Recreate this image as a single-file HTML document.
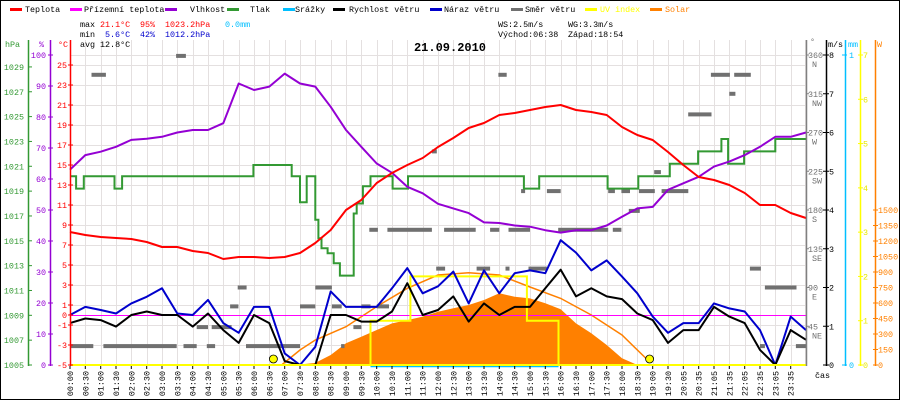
<!DOCTYPE html>
<html><head><meta charset="utf-8"><style>
html,body{margin:0;padding:0;background:#fff}
#wrap{position:relative;width:900px;height:400px;overflow:hidden}
svg{display:block}
text{font-family:"Liberation Mono",monospace;font-size:8.4px}
text.title{font-size:12px;font-weight:bold}
</style></head><body>
<div id="wrap">
<svg id="c" width="900" height="400" viewBox="0 0 900 400"></svg>
</div>
<script>
// ---- data ----
const halfHours = [0,0.5,1,1.5,2,2.5,3,3.5,4,4.5,5,5.5,6,6.5,7,7.5,8,8.5,9,9.5,10,10.5,11,11.5,12,12.5,13,13.5,14,14.5,15,15.5,16,16.5,17,17.5,18,18.5,19,19.5,20,20.5,21,21.5,22,22.5,23,23.5,24];
const tempVals = [8.3,8.0,7.8,7.7,7.6,7.3,6.8,6.8,6.4,6.2,5.6,5.8,5.8,5.7,5.8,6.2,7.2,8.5,10.5,11.5,13.2,14.2,15,15.7,16.8,17.7,18.7,19.2,20,20.2,20.5,20.8,21,20.5,20.3,20,18.8,18,17.5,16.3,15,13.8,13.5,13,12.2,11,11,10.2,9.7];
const humVals = [63,67.7,68.8,70.4,72.6,73,73.6,75,75.8,75.8,78,90.8,88.7,89.8,94,90.8,89.8,83.3,75.8,70.4,65,62,57.5,55.4,52,50.5,49,46,45.8,45,44.6,43.5,42.7,43.5,43.5,45,47.8,50.5,51,56.5,58.6,60.7,64,65.6,67.7,70.4,73.6,73.6,75];
const windVals = [1.08,1.2,1.16,0.99,1.29,1.38,1.29,1.29,0.99,1.33,0.9,0.57,1.29,1.08,0.1,0,0,1.29,1.29,1.12,1.12,1.38,2.11,1.29,1.42,1.77,1.12,1.59,1.29,1.5,1.5,1.98,2.46,1.77,1.98,1.77,1.7,1.33,1.16,0.57,0.9,0.9,1.5,1.25,1.08,0.39,0,0.9,0.65];
const gustVals = [1.29,1.5,1.42,1.33,1.59,1.76,1.98,1.33,1.29,1.68,1.08,0.83,1.5,1.5,0.3,0,0.47,1.9,1.5,1.5,1.5,1.98,2.5,1.85,2.03,2.41,1.59,2.44,1.85,2.37,2.44,2.37,3.22,2.9,2.44,2.7,2.28,1.85,1.25,0.83,1.08,1.08,1.59,1.46,1.38,0.9,0,1.25,0.9];
const pressTimes = [0,0.2,0.45,1.45,1.7,5.98,7.23,7.5,7.72,8.0,8.1,8.2,8.4,8.6,8.8,9.25,9.35,9.55,9.8,10.52,11.02,14.8,15.3,17.53,18.53,19.56,20.48,21.24,21.46,21.98,23.0];
const pressVals = [1020.2,1019.2,1020.2,1019.2,1020.2,1021.1,1020.2,1018.1,1020.2,1016.7,1015.2,1014.4,1014.0,1013.2,1012.2,1017.2,1018.0,1019.4,1020.2,1019.2,1020.2,1019.2,1020.2,1019.2,1020.2,1021.2,1022.2,1023.2,1021.2,1022.2,1023.2];
const solarTimes = [7.5,8,8.5,9,9.5,10,10.5,11,11.5,12,12.5,13,13.5,14,14.5,15,15.5,16,16.5,17,17.5,18,18.5];
const solarVals = [5,20,97,210,274,339,403,435,468,516,549,581,629,694,661,645,597,540,403,307,194,65,0];
const solarMaxTimes = [6.9,7.5,8,9,10,11,12,13,14,15,16,17,18,18.9];
const solarMaxVals = [0,145,242,371,565,742,871,892,871,755,645,484,290,30];
const uvTimes = [0,9.8,11.1,14.9,15.93];
const uvVals = [0,1,2,1,0];
const dirStart = [0.7,3.46,0,1.09,3.7,4.46,4.13,4.62,5.22,5.47,5.74,7.5,8.0,8.54,9.5,10.0,9.24,8.84,9.76,10.35,12.2,13.7,14.3,11.94,13.26,14.2,14.95,11.8,13.97,14.71,15.55,15.92,17.7,17.55,17.98,18.55,19.29,18.22,19.05,20.16,20.9,21.5,21.66,22.17,22.66,22.5,23.67];
const dirEnd = [1.17,3.78,0.76,3.48,4.13,4.73,4.5,5.27,5.49,5.76,7.5,8.0,8.54,8.86,9.8,10.4,9.5,8.95,10.04,11.8,13.23,14.0,15.0,12.23,13.7,14.33,15.55,11.96,14.24,14.84,16.0,17.55,17.98,17.77,18.26,19.07,20.16,18.58,19.27,20.92,21.52,21.7,22.2,22.53,23.69,22.66,24];
const dirDeg = [337,359,22,22,22,22,44,44,68,90,22,68,90,68,68,68,44,22,157,157,157,157,157,112,112,112,112,248,337,202,202,157,157,202,202,202,202,179,224,291,337,315,337,112,90,22,22];
const timeLabels = ["00:00","00:30","01:00","01:30","02:00","02:30","03:00","03:30","04:00","04:30","05:00","05:30","06:00","06:30","07:00","07:30","08:00","08:30","09:00","09:30","10:00","10:30","11:00","11:30","12:00","12:30","13:00","13:30","14:00","14:30","15:00","15:30","16:00","16:30","17:00","17:30","18:00","18:30","19:00","19:30","20:05","20:35","21:05","21:35","22:05","22:35","23:05","23:35"];
const hpaTicks = [1029,1027,1025,1023,1021,1019,1017,1015,1013,1011,1009,1007,1005];
const humTicks = [100,90,80,70,60,50,40,30,20,10,0];
const tempTicks = [25,23,21,19,17,15,13,11,9,7,5,3,1,0,-1,-3,-5];
const dirTicks = [360,315,270,225,180,135,90,45];
const dirNames = ["N","NW","W","SW","S","SE","E","NE"];
const msTicks = [8,7,6,5,4,3,2,1,0];
const uvTicks = [7,6,5,4,3,2,1,0];
const wTicks = [1500,1350,1200,1050,900,750,600,450,300,150,0];
const sunTimes = [6.633,18.9];

// ---- scales ----
const X = h => 70 + h*30.667;
const yT = t => 315 - 10*t;
const yH = v => 365 - 3.1*v;
const yP = p => 365 - (p-1005)*12.42;
const yD = d => 365 - d*310/360;
const yW = v => 365 - v*38.75;
const yS = w => 365 - w*155/1500;
const yU = u => 365 - u*310/7;

const svg = document.getElementById('c');
const NS = 'http://www.w3.org/2000/svg';
function mk(tag, attrs, parent){
  const e = document.createElementNS(NS, tag);
  for (const k in attrs) e.setAttribute(k, attrs[k]);
  (parent||svg).appendChild(e);
  return e;
}
function txt(x,y,s,fill,anchor,extra){
  const t = mk('text',Object.assign({x:x,y:y,fill:fill||'#000','text-anchor':anchor||'start'},extra||{}));
  t.textContent = s;
  return t;
}

// border
let e = mk('rect',{x:0.5,y:0.5,width:899,height:399,fill:'#fff',stroke:'#000'});



// grid
const grid = mk('g',{stroke:'#e4e0e0','stroke-width':1});


for (let i=0;i<timeLabels.length;i++){ const gx=Math.round(70+i*15.333)+0.5; mk('line',{x1:gx,y1:40,x2:gx,y2:365},grid); }
mk('line',{x1:805.5,y1:40,x2:805.5,y2:365},grid);
for (let t=-5;t<=25;t+=2){ const gy=yT(t)+0.5; mk('line',{x1:70,y1:gy,x2:806,y2:gy},grid); }
mk('line',{x1:70,y1:55.5,x2:806,y2:55.5},grid);

// solar fill
let d = 'M'+X(solarTimes[0])+',365';
solarTimes.forEach((t,i)=>{ d+=' L'+X(t).toFixed(1)+','+yS(solarVals[i]).toFixed(1); });
d += ' L'+X(solarTimes[solarTimes.length-1])+',365 Z';
e = mk('path',{d:d,fill:'#ff8000',stroke:'none'});



// solar max curve
e = mk('polyline',{points:solarMaxTimes.map((t,i)=>X(t).toFixed(1)+','+yS(solarMaxVals[i]).toFixed(1)).join(' '),fill:'none',stroke:'#ff8000','stroke-width':1.5});



// wind direction dashes
const dg = mk('g',{fill:'#707070'});


dirStart.forEach((s,i)=>{
  const r = mk('rect',{x:X(s).toFixed(1),y:(yD(dirDeg[i])-2).toFixed(1),width:Math.max(3,X(dirEnd[i])-X(s)).toFixed(1),height:4},dg);
  
  
});

// ground temp line (0 C)
e = mk('line',{x1:70,y1:315.5,x2:806,y2:315.5,stroke:'#ff00ff','stroke-width':1});



function poly(times, vals, yf, color, w, name){
  const p = mk('polyline',{points:times.map((t,i)=>X(t).toFixed(1)+','+yf(vals[i]).toFixed(1)).join(' '),fill:'none',stroke:color,'stroke-width':w,'stroke-linejoin':'round'});
  
  
  return p;
}
function stepPath(times, vals, yf, end){
  let s='';
  times.forEach((t,i)=>{
    const x=X(t).toFixed(1), y=yf(vals[i]).toFixed(1);
    s += (i===0?'M':' L')+x+','+(i===0?y:yf(vals[i-1]).toFixed(1))+' L'+x+','+y;
  });
  s += ' L'+X(end).toFixed(1)+','+yf(vals[vals.length-1]).toFixed(1);
  return s;
}

// UV step
e = mk('path',{d:stepPath(uvTimes,uvVals,yU,24),fill:'none',stroke:'#ffff00','stroke-width':2});


// precip line
e = mk('line',{x1:X(9.8),y1:366.5,x2:X(15.93),y2:366.5,stroke:'#00bfff','stroke-width':1.5});



// pressure
e = mk('path',{d:stepPath(pressTimes,pressVals,yP,24),fill:'none',stroke:'#339933','stroke-width':2});



poly(halfHours,gustVals,yW,'#0000cc',2,'wind-gust-series');
poly(halfHours,windVals,yW,'#000000',2,'wind-speed-series');
poly(halfHours,humVals,yH,'#9400d3',2,'humidity-series');
poly(halfHours,tempVals,yT,'#ff0000',2,'temperature-series');

// sun markers
sunTimes.forEach((t,i)=>{
  const c = mk('circle',{cx:X(t).toFixed(1),cy:359,r:4,fill:'#ffff00',stroke:'#000','stroke-width':0.8});
  
  
});

// bottom axis (yellow) and time labels
e = mk('line',{x1:70,y1:365,x2:806,y2:365,stroke:'#ffff00','stroke-width':2});


const xl = mk('g',{});


timeLabels.forEach((s,i)=>{
  const cx = 70+i*15.333;
  mk('line',{x1:cx.toFixed(1),y1:366,x2:cx.toFixed(1),y2:369,stroke:'#000'},xl);
  const t = mk('text',{x:0,y:0,'text-anchor':'end',fill:'#000',transform:'translate('+(cx+3).toFixed(1)+',371) rotate(-90)'},xl);
  t.textContent = s;
  
  
});
e = txt(815,378,'čas','#000','start');



// left axes
function axisLine(x,color,name){ const l=mk('line',{x1:x+0.5,y1:40,x2:x+0.5,y2:366,stroke:color,'stroke-width':1.5});   }
axisLine(28,'#339933','pressure-axis');
axisLine(50,'#9400d3','humidity-axis');
axisLine(70,'#ff0000','temperature-axis');
hpaTicks.forEach(v=>{ const y=yP(v); mk('line',{x1:28,y1:y,x2:32,y2:y,stroke:'#339933'}); const t=txt(24,y+3,String(v),'#339933','end');   });
humTicks.forEach(v=>{ const y=yH(v); mk('line',{x1:48,y1:y,x2:53,y2:y,stroke:'#9400d3'}); const t=txt(46,y+3,String(v),'#9400d3','end');   });
tempTicks.forEach(v=>{ const y=yT(v); mk('line',{x1:68,y1:y,x2:73,y2:y,stroke:'#ff0000'}); const t=txt(67,y+3,String(v),'#ff0000','end');   });
e=txt(5,47,'hPa','#339933');  
e=txt(39,47,'%','#9400d3');  
e=txt(58,47,'°C','#ff0000');  

// right axes
axisLine(806,'#808080','direction-axis');
axisLine(826,'#000000','wind-speed-axis');
axisLine(845,'#00bfff','precip-axis');
axisLine(860,'#ffff00','uv-axis');
axisLine(875,'#ff8000','solar-axis');
dirTicks.forEach((v,i)=>{ const y=yD(v); mk('line',{x1:806,y1:y,x2:809,y2:y,stroke:'#808080'}); const t=txt(808,y+3,String(v),'#707070');   const n=txt(812,y+12,dirNames[i],'#707070');   });
msTicks.forEach(v=>{ const y=yW(v); mk('line',{x1:823,y1:y,x2:829,y2:y,stroke:'#000'}); const t=txt(829,y+3,String(v),'#000');   });
[[1,55],[0,365]].forEach(a=>{ mk('line',{x1:842,y1:a[1],x2:847,y2:a[1],stroke:'#00bfff'}); const t=txt(849,a[1]+3,String(a[0]),'#00bfff');   });
uvTicks.forEach(v=>{ const y=yU(v); mk('line',{x1:858,y1:y,x2:863,y2:y,stroke:'#ffff00'}); const t=txt(863,y+3,String(v),'#e8e800');   });
wTicks.forEach(v=>{ const y=yS(v); mk('line',{x1:873,y1:y,x2:878,y2:y,stroke:'#ff8000'}); const t=txt(878,y+3,String(v),'#ff8000');   });
e=txt(810,44,'°','#707070');  
e=txt(828,47,'m/s','#000');  
e=txt(848,47,'mm','#00bfff');  
e=txt(877,47,'W','#ff8000');  

// legend
const legend = [['Teplota','#ff0000',10,25],['Přízemní teplota','#ff00ff',70,84],['Vlhkost','#9400d3',165,190],['Tlak','#339933',227,250],['Srážky','#00bfff',283,295],['Rychlost větru','#000000',333,349],['Náraz větru','#0000cc',430,444],['Směr větru','#707070',511,525],['UV index','#ffff00',585,600],['Solar','#ff8000',650,665]];
legend.forEach(l=>{
  const g = mk('g',{});
  
  
  mk('rect',{x:l[2],y:8,width:12,height:3,fill:l[1]},g);
  const t = mk('text',{x:l[3],y:12,fill:(l[1]==='#ffff00'||l[1]==='#ff8000')?l[1]:'#000'},g);
  t.textContent = l[0];
});

// stats
const st = [[80,27,'max','#000'],[100,27,'21.1°C','#ff0000'],[140,27,'95%','#ff0000'],[165,27,'1023.2hPa','#ff0000'],[225,27,'0.0mm','#00bfff'],
            [80,37,'min','#000'],[105,37,'5.6°C','#0000cc'],[140,37,'42%','#0000cc'],[165,37,'1012.2hPa','#0000cc'],
            [80,47,'avg','#000'],[100,47,'12.8°C','#000'],
            [498,27,'WS:2.5m/s','#000'],[568,27,'WG:3.3m/s','#000'],[498,37,'Východ:06:38','#000'],[568,37,'Západ:18:54','#000']];
st.forEach(s=>{ const t=txt(s[0],s[1],s[2],s[3]);   });
e = txt(450,51,'21.09.2010','#000','middle',{'class':'title'});


</script>
</body></html>
